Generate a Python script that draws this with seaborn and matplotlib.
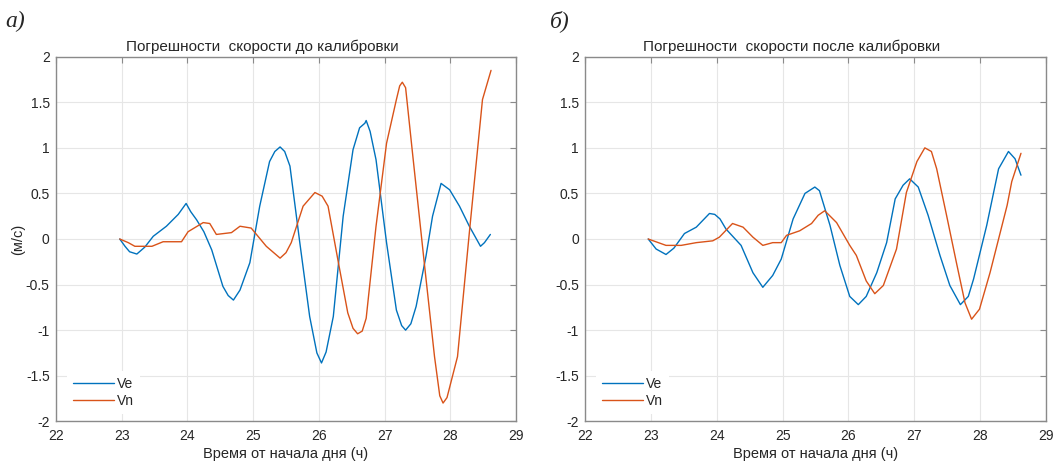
import numpy as np
import pandas as pd
import matplotlib
matplotlib.use("Agg")
import matplotlib.pyplot as plt
import seaborn as sns
from matplotlib.ticker import FuncFormatter, MultipleLocator

# ---------------- data ----------------
# panel a) before calibration
t_a_ve = [22.97, 23.05, 23.12, 23.23, 23.35, 23.48, 23.68, 23.86, 23.98, 24.05, 24.14, 24.25,
          24.37, 24.54, 24.62, 24.70, 24.80, 24.95, 25.10, 25.25, 25.33, 25.41, 25.48, 25.56,
          25.71, 25.86, 25.97, 26.04, 26.11, 26.22, 26.37, 26.52, 26.62, 26.70, 26.72, 26.78,
          26.87, 27.03, 27.18, 27.26, 27.32, 27.40, 27.48, 27.63, 27.73, 27.86, 27.99, 28.14,
          28.29, 28.46, 28.52, 28.61]
v_a_ve = [0.00, -0.08, -0.14, -0.165, -0.09, 0.03, 0.14, 0.27, 0.39, 0.30, 0.21, 0.08,
          -0.12, -0.52, -0.62, -0.67, -0.56, -0.26, 0.36, 0.85, 0.96, 1.01, 0.96, 0.80,
          -0.04, -0.85, -1.25, -1.36, -1.24, -0.85, 0.25, 0.98, 1.22, 1.27, 1.30, 1.18,
          0.87, -0.04, -0.78, -0.95, -1.00, -0.93, -0.74, -0.19, 0.25, 0.61, 0.54, 0.36,
          0.14, -0.08, -0.04, 0.05]

t_a_vn = [22.97, 23.10, 23.20, 23.46, 23.63, 23.91, 24.01, 24.24, 24.34, 24.44, 24.67, 24.80,
          24.97, 25.20, 25.41, 25.50, 25.58, 25.76, 25.94, 26.05, 26.14, 26.29, 26.44, 26.52,
          26.59, 26.66, 26.72, 26.87, 27.03, 27.18, 27.23, 27.27, 27.32, 27.43, 27.61, 27.76,
          27.84, 27.89, 27.95, 28.11, 28.29, 28.49, 28.62]
v_a_vn = [0.00, -0.04, -0.08, -0.08, -0.03, -0.03, 0.08, 0.18, 0.17, 0.05, 0.07, 0.14,
          0.12, -0.08, -0.21, -0.15, -0.04, 0.36, 0.51, 0.47, 0.36, -0.23, -0.81, -0.98,
          -1.04, -1.01, -0.87, 0.14, 1.05, 1.53, 1.68, 1.72, 1.66, 0.91, -0.30, -1.29,
          -1.72, -1.80, -1.74, -1.29, 0.07, 1.53, 1.85]

# panel б) after calibration
t_b_ve = [22.96, 23.08, 23.23, 23.35, 23.51, 23.69, 23.89, 23.97, 24.05, 24.14, 24.37, 24.55,
          24.70, 24.85, 24.98, 25.16, 25.34, 25.49, 25.56, 25.72, 25.87, 26.02, 26.15, 26.27,
          26.43, 26.58, 26.71, 26.83, 26.93, 27.06, 27.21, 27.39, 27.54, 27.70, 27.82, 27.90,
          28.10, 28.28, 28.43, 28.53, 28.62]
v_b_ve = [0.00, -0.11, -0.17, -0.10, 0.06, 0.13, 0.28, 0.27, 0.22, 0.11, -0.07, -0.37,
          -0.53, -0.40, -0.22, 0.22, 0.50, 0.57, 0.53, 0.15, -0.29, -0.63, -0.72, -0.63,
          -0.37, -0.04, 0.44, 0.59, 0.66, 0.57, 0.26, -0.18, -0.51, -0.72, -0.63, -0.44,
          0.15, 0.77, 0.96, 0.88, 0.70]

t_b_vn = [22.96, 23.23, 23.46, 23.69, 23.94, 24.04, 24.24, 24.40, 24.55, 24.70, 24.85, 24.98,
          25.06, 25.26, 25.44, 25.54, 25.64, 25.82, 26.02, 26.12, 26.27, 26.40, 26.53, 26.73,
          26.88, 27.04, 27.16, 27.26, 27.34, 27.49, 27.64, 27.77, 27.87, 27.99, 28.15, 28.41,
          28.48, 28.62]
v_b_vn = [0.00, -0.07, -0.07, -0.04, -0.02, 0.02, 0.17, 0.13, 0.02, -0.07, -0.04, -0.04,
          0.04, 0.09, 0.17, 0.26, 0.31, 0.18, -0.07, -0.18, -0.46, -0.60, -0.51, -0.11,
          0.51, 0.85, 1.00, 0.96, 0.77, 0.26, -0.26, -0.70, -0.88, -0.77, -0.37, 0.37,
          0.63, 0.94]

series_names = ["Ve", "Vn"]
titles = ["Погрешности  скорости до калибровки", "Погрешности  скорости после калибровки"]
panel_labels = ["а)", "б)"]
x_label = "Время от начала дня (ч)"
y_label = "(м/с)"
x_ticks = [22, 23, 24, 25, 26, 27, 28, 29]
y_ticks = [-2, -1.5, -1, -0.5, 0, 0.5, 1, 1.5, 2]

# ---------------- styling ----------------
sns.set_theme(style="white")
plt.rcParams["font.family"] = ["Liberation Sans", "DejaVu Sans"]
plt.rcParams["axes.unicode_minus"] = False

colors = {"Ve": "#0072BD", "Vn": "#D95319"}
spine_c = "#8a8a8a"
text_c = "#262626"

fig = plt.figure(figsize=(10.62, 4.67), dpi=100)
ax_a = fig.add_axes([56 / 1062, 1 - 421.3 / 467, 460 / 1062, 364.6 / 467])
ax_b = fig.add_axes([585 / 1062, 1 - 421.3 / 467, 461 / 1062, 364.6 / 467])


def make_df(t_ve, v_ve, t_vn, v_vn):
    return pd.concat([
        pd.DataFrame({"t": t_ve, "v": v_ve, "s": "Ve"}),
        pd.DataFrame({"t": t_vn, "v": v_vn, "s": "Vn"}),
    ], ignore_index=True)


dfs = [make_df(t_a_ve, v_a_ve, t_a_vn, v_a_vn), make_df(t_b_ve, v_b_ve, t_b_vn, v_b_vn)]

for i, (ax, df) in enumerate(zip([ax_a, ax_b], dfs)):
    sns.lineplot(data=df, x="t", y="v", hue="s", hue_order=series_names, palette=colors,
                 estimator=None, sort=False, linewidth=1.0, ax=ax, legend=True)
    ax.set_xlim(22, 29)
    ax.set_ylim(-2, 2)
    ax.set_xticks(x_ticks)
    ax.set_yticks(y_ticks)
    ax.yaxis.set_major_formatter(FuncFormatter(lambda v, p: "%g" % v))
    ax.xaxis.set_major_formatter(FuncFormatter(lambda v, p: "%g" % v))
    ax.grid(True, color="#e6e6e6", linewidth=0.8)
    ax.set_axisbelow(True)
    for sp in ax.spines.values():
        sp.set_visible(True)
        sp.set_color(spine_c)
        sp.set_linewidth(1.0)
    ax.tick_params(axis="both", direction="in", top=True, right=True, length=4,
                   width=0.8, color=spine_c, labelsize=10, labelcolor=text_c)
    ax.tick_params(axis="x", pad=5.5)
    ax.tick_params(axis="y", pad=4.5)
    ax.set_xlabel(x_label, fontsize=10.5, color=text_c, labelpad=3)
    if i == 0:
        ax.set_ylabel(y_label, fontsize=10.5, color=text_c)
        ax.yaxis.set_label_coords(-0.068, 0.5)
    else:
        ax.set_ylabel("")
    ax.set_title(titles[i], fontsize=11, color=text_c, x=0.448, pad=4)
    handles, labels = ax.get_legend_handles_labels()
    leg = ax.legend(handles, labels, loc="lower left", bbox_to_anchor=(0.024, 0.021),
                    borderaxespad=0, frameon=True, fontsize=10, handlelength=2.95,
                    handletextpad=0.25, labelspacing=0.25, borderpad=0.4)
    leg.get_frame().set_edgecolor("none")
    leg.get_frame().set_facecolor("white")
    leg.get_frame().set_alpha(1)
    for line in leg.get_lines():
        line.set_linewidth(1.0)
    for txt in leg.get_texts():
        txt.set_color(text_c)

fig.text(5 / 1062, 1 - 21 / 467, panel_labels[0], fontsize=17, style="italic",
         family=["Liberation Serif", "DejaVu Serif"], va="center", ha="left")
fig.text(550 / 1062, 1 - 21 / 467, panel_labels[1], fontsize=17, style="italic",
         family=["Liberation Serif", "DejaVu Serif"], va="center", ha="left")

fig.savefig("out.png", dpi=100)
